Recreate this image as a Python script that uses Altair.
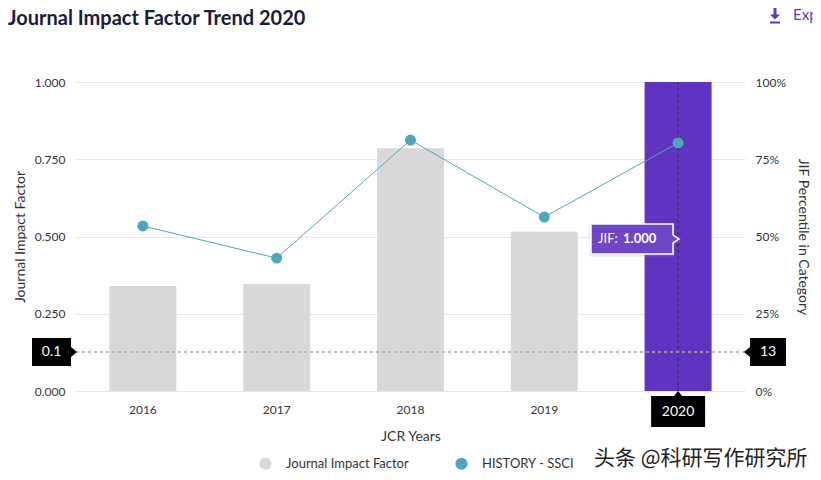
import altair as alt
import pandas as pd

# ---- data ----
years = ["2016", "2017", "2018", "2019", "2020"]
jif_values = [0.340, 0.346, 0.786, 0.515, 1.000]
percentile_values = [53.4, 43.0, 81.2, 56.3, 80.3]
series_names = ["Journal Impact Factor", "HISTORY - SSCI"]
highlight_year = "2020"
threshold_jif = 0.126
threshold_pct = 12.6
threshold_left_label = "0.1"
threshold_right_label = "13"
tooltip_label = "JIF:"
tooltip_value = "1.000"
title_text = "Journal Impact Factor Trend 2020"
watermark = "头条 @科研写作研究所"

FONT = "Lato"
GRAY = "#d8d8d8"
PURPLE = "#6034c0"
TEAL = "#4ea6b8"
TXT = "#333333"

bars_df = pd.DataFrame({"year": years, "jif": jif_values, "series": series_names[0]})
pct_df = pd.DataFrame({"year": years, "pct": percentile_values, "series": series_names[1]})
hl_df = bars_df[bars_df["year"] == highlight_year]
thr_left_df = pd.DataFrame({"jif": [threshold_jif], "label": [threshold_left_label]})
thr_right_df = pd.DataFrame({"pct": [threshold_pct], "label": [threshold_right_label]})
year_box_df = pd.DataFrame({"year": [highlight_year], "label": [highlight_year]})
one = pd.DataFrame({"a": [0]})

x_enc = alt.X(
    "year:N",
    sort=years,
    scale=alt.Scale(paddingInner=0.5, paddingOuter=0.25),
    axis=alt.Axis(
        title="JCR Years", ticks=False, domain=False, labelAngle=0,
        labelPadding=13, titlePadding=14, labelFontSize=12, titleFontSize=14,
        labelColor=TXT, titleColor=TXT, labelFont=FONT, titleFont=FONT,
        titleFontWeight="normal", grid=False,
    ),
)

left_scale = alt.Scale(domain=[0, 1], nice=False, zero=True)
left_axis = alt.Axis(
    title="Journal Impact Factor", values=[0, 0.25, 0.5, 0.75, 1.0], format=".3f",
    ticks=False, domain=False, grid=True, gridColor="#e6e6e6", labelPadding=11,
    titlePadding=7, labelFontSize=12, titleFontSize=14, labelColor=TXT,
    titleColor=TXT, labelFont=FONT, titleFont=FONT, titleFontWeight="normal",
)
right_scale = alt.Scale(domain=[0, 100], nice=False, zero=True)
right_axis = alt.Axis(
    title="JIF Percentile in Category", orient="right", values=[0, 25, 50, 75, 100],
    labelExpr="datum.value + '%'", ticks=False, domain=False, grid=False,
    labelPadding=10, titlePadding=10, labelFontSize=12, titleFontSize=14,
    labelColor=TXT, titleColor=TXT, labelFont=FONT, titleFont=FONT,
    titleFontWeight="normal",
)

color_enc = alt.Color(
    "series:N",
    scale=alt.Scale(domain=series_names, range=[GRAY, TEAL]),
    legend=alt.Legend(
        orient="none", legendX=183, legendY=375, direction="horizontal",
        title=None, symbolType="circle", symbolSize=150, symbolStrokeWidth=0,
        labelFontSize=13, labelFont=FONT, labelColor=TXT, columnPadding=46,
        labelOffset=14,
    ),
)

def yl(field):
    return alt.Y(field, scale=left_scale, axis=left_axis)

def yr(field):
    return alt.Y(field, scale=right_scale, axis=right_axis)

bars = alt.Chart(bars_df).mark_bar().encode(x=x_enc, y=yl("jif:Q"), color=color_enc)
hl_bar = alt.Chart(hl_df).mark_bar(color=PURPLE).encode(x=x_enc, y=yl("jif:Q"))
vrule = alt.Chart(year_box_df).mark_rule(color="#3a2870", strokeDash=[3, 3], strokeWidth=1.2).encode(
    x=x_enc, y=alt.value(0), y2=alt.value(309)
)
hrule = alt.Chart(thr_left_df).mark_rule(color="#aaaaaa", strokeDash=[3, 3], strokeWidth=1.5).encode(
    y=yl("jif:Q")
)

left_box_path = "M-3.9,-2.8L3.9,-2.8L3.9,-1L5.1,0L3.9,1L3.9,2.8L-3.9,2.8Z"
left_box = alt.Chart(thr_left_df).mark_point(
    shape=left_box_path, filled=True, color="#000000", opacity=1, size=100
).encode(x=alt.value(-24.5), y=yl("jif:Q"))
left_box_txt = alt.Chart(thr_left_df).mark_text(
    color="white", fontSize=14, font=FONT, baseline="middle"
).encode(x=alt.value(-24.5), y=yl("jif:Q"), text="label:N")

year_box_path = "M-5.4,-3.1L-0.8,-3.1L0,-4.1L0.8,-3.1L5.4,-3.1L5.4,3.1L-5.4,3.1Z"
year_box = alt.Chart(year_box_df).mark_point(
    shape=year_box_path, filled=True, color="#000000", opacity=1, size=100
).encode(x=x_enc, y=alt.value(329.5))
year_box_txt = alt.Chart(year_box_df).mark_text(
    color="white", fontSize=14, font=FONT, baseline="middle"
).encode(x=x_enc, y=alt.value(329.5), text="label:N")

tip_path = "M-4.1,-1.5L4.1,-1.5L4.1,-0.4L4.7,0L4.1,0.4L4.1,1.5L-4.1,1.5Z"
tip_shadow = alt.Chart(one).mark_point(
    shape=tip_path, filled=False, stroke="#999999", strokeWidth=3, opacity=0.25, size=400
).encode(x=alt.value(556), y=alt.value(158))
tip_box = alt.Chart(one).mark_point(
    shape=tip_path, filled=True, fill="#6f46c8", stroke="#ffffff", strokeWidth=1.5,
    opacity=1, size=400
).encode(x=alt.value(556), y=alt.value(157))
tip_lbl = alt.Chart(one).mark_text(
    color="white", fontSize=13, font=FONT, align="left", baseline="middle"
).encode(x=alt.value(522), y=alt.value(157), text=alt.value(tooltip_label))
tip_val = alt.Chart(one).mark_text(
    color="white", fontSize=13, font=FONT, fontWeight="bold", align="left", baseline="middle"
).encode(x=alt.value(547), y=alt.value(157), text=alt.value(tooltip_value))

title = alt.Chart(one).mark_text(
    color="#1c1c3a", fontSize=20, font=FONT, fontWeight="bold", align="left", baseline="top"
).encode(x=alt.value(-68), y=alt.value(-73), text=alt.value(title_text))

icon_path = "M-0.3,-1.3L0.3,-1.3L0.3,0.1L1,0.1L0,1.1L-1,0.1L-0.3,0.1Z M-1,1.5L1,1.5L1,1.9L-1,1.9Z"
export_icon = alt.Chart(one).mark_point(
    shape=icon_path, filled=True, color="#5b3bc2", opacity=1, size=100
).encode(x=alt.value(699), y=alt.value(-68))
export_txt = alt.Chart(one).mark_text(
    color="#5b3bc2", fontSize=15, font=FONT, align="left", baseline="alphabetic"
).encode(x=alt.value(717), y=alt.value(-62), text=alt.value("Export"))

wm = alt.Chart(one).mark_text(
    color="#222222", fontSize=21, font="Noto Sans CJK SC", align="left", baseline="alphabetic"
).encode(x=alt.value(518), y=alt.value(383), text=alt.value(watermark))

left_group = alt.layer(
    bars, hl_bar, vrule, hrule, left_box, left_box_txt, year_box, year_box_txt,
    title, export_icon, export_txt,
)

line = alt.Chart(pct_df).mark_line(color=TEAL, strokeWidth=1).encode(x=x_enc, y=yr("pct:Q"))
points = alt.Chart(pct_df).mark_point(filled=True, size=120, opacity=1).encode(
    x=x_enc, y=yr("pct:Q"), color=color_enc
)
right_box_path = "M-3.6,-2.8L3.6,-2.8L3.6,2.8L-3.6,2.8L-3.6,1L-4.8,0L-3.6,-1Z"
right_box = alt.Chart(thr_right_df).mark_point(
    shape=right_box_path, filled=True, color="#000000", opacity=1, size=100
).encode(x=alt.value(692), y=yr("pct:Q"))
right_box_txt = alt.Chart(thr_right_df).mark_text(
    color="white", fontSize=14, font=FONT, baseline="middle"
).encode(x=alt.value(692), y=yr("pct:Q"), text="label:N")

right_group = alt.layer(line, points, right_box, right_box_txt)

chart = (
    alt.layer(left_group, right_group, tip_shadow, tip_box, tip_lbl, tip_val, wm)
    .resolve_scale(y="independent")
    .properties(
        width=669, height=309,
        autosize=alt.AutoSizeParams(type="none"),
        padding={"left": 68, "top": 74, "right": 68, "bottom": 81},
        background="white",
    )
    .configure_view(stroke=None)
)

chart.save("out.html", embed_options={"renderer": "svg", "actions": False})
